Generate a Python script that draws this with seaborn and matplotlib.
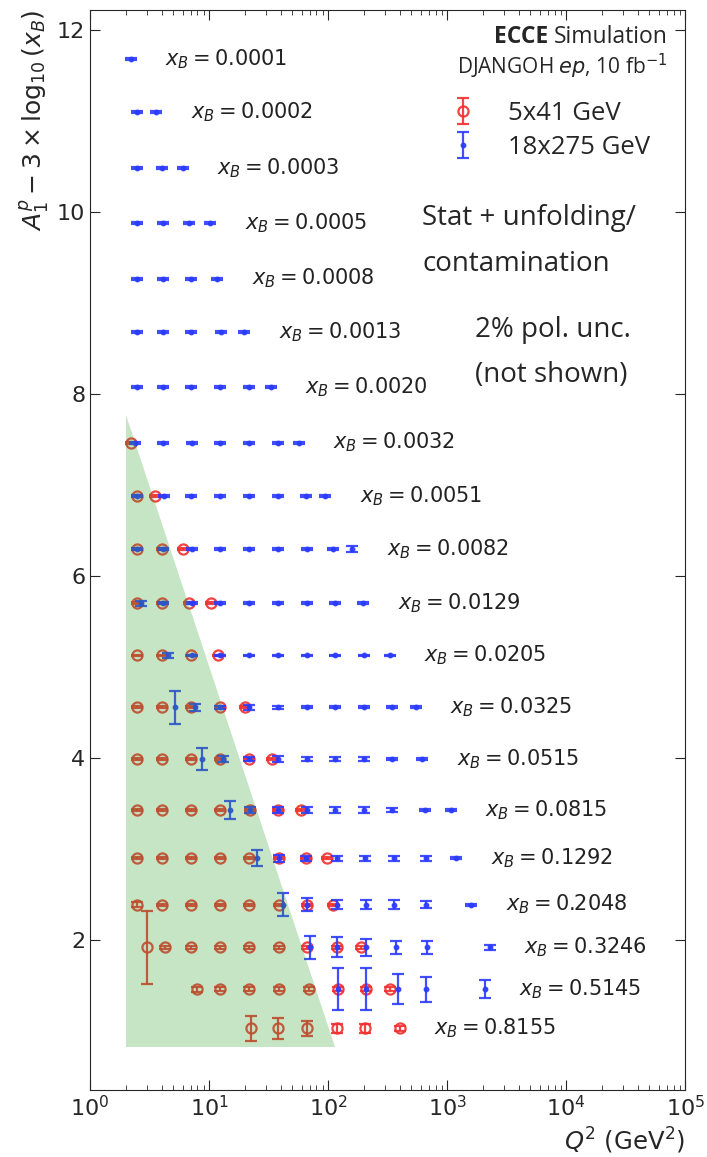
import numpy as np
import pandas as pd
import matplotlib
matplotlib.use("Agg")
import matplotlib.pyplot as plt
import seaborn as sns

# x_B bin centres (labels are rounded) and A1p value per bin
xb_centres = [0.000129, 0.000205, 0.000325, 0.000514, 0.000815, 0.00129, 0.00205,
              0.00325, 0.00514, 0.00815, 0.0129, 0.0205, 0.0325, 0.0515, 0.0815,
              0.1292, 0.2048, 0.3246, 0.5145, 0.8155]
xb_labels = ["0.0001", "0.0002", "0.0003", "0.0005", "0.0008", "0.0013", "0.0020",
             "0.0032", "0.0051", "0.0082", "0.0129", "0.0205", "0.0325", "0.0515",
             "0.0815", "0.1292", "0.2048", "0.3246", "0.5145", "0.8155"]
a1_values = [0.01, 0.03, 0.02, 0.01, 0.0, 0.01, 0.01, 0.0, 0.01, 0.03,
             0.03, 0.06, 0.09, 0.12, 0.16, 0.23, 0.32, 0.45, 0.59, 0.76]

# 18x275 GeV points (Q2 and stat uncertainty)
q2_hi = [[2.2], [2.46, 3.6], [2.46, 4.0, 6.0], [2.46, 4.1, 6.8, 10.2],
         [2.46, 4.1, 7.1, 11.7], [2.46, 4.1, 7.1, 12.5, 19.7],
         [2.46, 4.1, 7.1, 12.4, 21.6, 33],
         [2.39, 4.1, 7.26, 12.4, 21.6, 37.9, 57],
         [2.46, 4.2, 7.0, 12.4, 21.6, 37.9, 65, 95],
         [2.46, 4.1, 7.26, 12.4, 21.6, 37.9, 66, 111, 160],
         [2.7, 4.1, 7.26, 12.4, 21.6, 37.9, 66, 115, 198],
         [4.5, 7.26, 12.4, 21.6, 37.9, 66, 115, 200, 330],
         [5.2, 7.6, 12.4, 21.6, 37.9, 66, 115, 200, 347, 545],
         [8.8, 13.2, 21.6, 38, 66, 115, 200, 347, 620],
         [14.9, 22, 38, 66, 115, 200, 347, 650, 1070],
         [25.4, 38.6, 65, 118, 205, 360, 660, 1200],
         [42, 67, 118, 210, 360, 660, 1600],
         [70, 118, 210, 370, 680, 2280],
         [121, 210, 385, 661, 2075],
         []]
err_hi = [[0.01], [0.01] * 2, [0.01] * 3, [0.01] * 4, [0.01] * 4, [0.01] * 5,
          [0.01] * 6, [0.01] * 7, [0.01] * 8, [0.01] * 8 + [0.03],
          [0.03] + [0.01] * 8, [0.03] + [0.01] * 8,
          [0.18, 0.04, 0.02, 0.03, 0.02, 0.01, 0.01, 0.01, 0.01, 0.01],
          [0.12, 0.03, 0.02, 0.03, 0.02, 0.02, 0.02, 0.01, 0.01],
          [0.10, 0.03, 0.03, 0.03, 0.03, 0.03, 0.02, 0.01, 0.01],
          [0.09, 0.04, 0.03, 0.03, 0.03, 0.03, 0.03, 0.01],
          [0.13, 0.07, 0.05, 0.05, 0.05, 0.04, 0.01],
          [0.13, 0.11, 0.09, 0.07, 0.07, 0.03],
          [0.23, 0.23, 0.165, 0.14, 0.10],
          []]

# 5x41 GeV points
q2_lo = [[], [], [], [], [], [], [], [2.23], [2.46, 3.5], [2.46, 4.0, 6.0],
         [2.46, 4.0, 6.8, 10.3], [2.46, 4.0, 7.1, 11.8],
         [2.46, 4.0, 7.1, 12.4, 20], [2.46, 4.0, 7.0, 12.4, 21.6, 34],
         [2.46, 4.0, 7.0, 12.4, 22, 38, 59],
         [2.46, 4.0, 7.0, 12.4, 21.6, 38.6, 65, 98],
         [2.5, 4.0, 7.0, 12.4, 21.6, 38.6, 67, 111],
         [3.04, 4.3, 7.0, 12.4, 21.6, 38.6, 67, 118, 190],
         [8.0, 12.4, 21.6, 38.6, 69, 121, 210, 330],
         [22.5, 38, 66, 118, 205, 400]]
err_lo = [[], [], [], [], [], [], [], [0.01], [0.01] * 2, [0.01] * 3,
          [0.01] * 4, [0.01] * 4, [0.01] * 5, [0.01] * 6, [0.01] * 7,
          [0.01] * 8, [0.03] + [0.01] * 7, [0.40] + [0.02] * 8,
          [0.03] + [0.02] * 7, [0.14, 0.115, 0.08, 0.05, 0.05, 0.03]]

# region not covered (green band)
band_q2 = [2.0, 2.0, 115]
band_y = [7.77, 0.82, 0.82]

rows = []
for i, xb in enumerate(xb_centres):
    yv = a1_values[i] - 3 * np.log10(xb)
    for q, e in zip(q2_lo[i], err_lo[i]):
        rows.append(dict(beam="5x41 GeV", q2=q, y=yv, err=e, row=i))
    for q, e in zip(q2_hi[i], err_hi[i]):
        rows.append(dict(beam="18x275 GeV", q2=q, y=yv, err=e, row=i))
df = pd.DataFrame(rows)

sns.set_style("ticks")
plt.rcParams["font.family"] = ["DejaVu Sans"]
plt.rcParams["mathtext.fontset"] = "dejavusans"

fig, ax = plt.subplots(figsize=(7.07, 11.57), dpi=100)
fig.subplots_adjust(left=0.1273, right=0.969, top=0.9914, bottom=0.058)

red = "#f23030"
blue = "#2c3cff"

lo = df[df.beam == "5x41 GeV"]
hi = df[df.beam == "18x275 GeV"]
h_lo = ax.errorbar(lo.q2, lo.y, yerr=lo.err, fmt="o", ms=7.3, mfc="none", mec=red,
                   mew=1.6, ecolor=red, elinewidth=1.6, capsize=4.5, capthick=1.6,
                   alpha=0.9, label="5x41 GeV", zorder=3)
h_hi = ax.errorbar(hi.q2, hi.y, yerr=hi.err, fmt="o", ms=3.2, color=blue,
                   elinewidth=1.6, capsize=4.5, capthick=1.6, alpha=0.9,
                   label="18x275 GeV", zorder=4)

ax.fill(band_q2, band_y, color="tab:green", alpha=0.27, lw=0, zorder=6)

# row labels, placed right of the last point of each row
for i, xb in enumerate(xb_centres):
    yv = a1_values[i] - 3 * np.log10(xb)
    qmax = max(q2_lo[i] + q2_hi[i])
    ax.text(qmax * 1.95, yv, r"$x_B = %s$" % xb_labels[i], fontsize=15,
            va="center", ha="left", color="#222222")

ax.set_xscale("log")
ax.set_xlim(1, 1e5)
ax.set_ylim(0.35, 12.22)
ax.set_yticks([2, 4, 6, 8, 10, 12])
ax.tick_params(which="both", direction="in", top=True, right=True, labelsize=16)
ax.tick_params(which="major", length=7)
ax.tick_params(which="minor", length=3.5)
ax.set_ylabel(r"$A_1^p - 3 \times \log_{10}(x_B)$", fontsize=18, loc="top")
ax.set_xlabel(r"$Q^2$ (GeV$^2$)", fontsize=17.5, loc="right")

ann = ["Open Sans", "DejaVu Sans"]
t_sim = ax.text(0.970, 0.975, "Simulation", transform=ax.transAxes,
                ha="right", va="center", fontsize=16.5, family=ann)
fig.canvas.draw()
bb = t_sim.get_window_extent().transformed(ax.transAxes.inverted())
ax.text(bb.x0 - 0.008, 0.975, "ECCE", transform=ax.transAxes, ha="right",
        va="center", fontsize=16.5, family=ann, weight="bold")
ax.text(0.970, 0.948, r"DJANGOH $ep$, 10 fb$^{\rm{-1}}$", transform=ax.transAxes,
        ha="right", va="center", fontsize=15, family=ann)
ax.legend(handles=[h_lo, h_hi], loc="upper left", bbox_to_anchor=(0.607, 0.916),
          frameon=False, handlelength=0.9, handletextpad=1.3, borderpad=0,
          borderaxespad=0, labelspacing=0.35, prop={"family": ann, "size": 18.5})
ax.text(0.558, 0.807, "Stat + unfolding/", transform=ax.transAxes,
        ha="left", va="center", fontsize=20, family=ann)
ax.text(0.558, 0.765, "contamination", transform=ax.transAxes,
        ha="left", va="center", fontsize=20, family=ann)
ax.text(0.647, 0.704, "2% pol. unc.", transform=ax.transAxes,
        ha="left", va="center", fontsize=20, family=ann)
ax.text(0.647, 0.662, "(not shown)", transform=ax.transAxes,
        ha="left", va="center", fontsize=20, family=ann)

fig.savefig("out.png", dpi=100)
